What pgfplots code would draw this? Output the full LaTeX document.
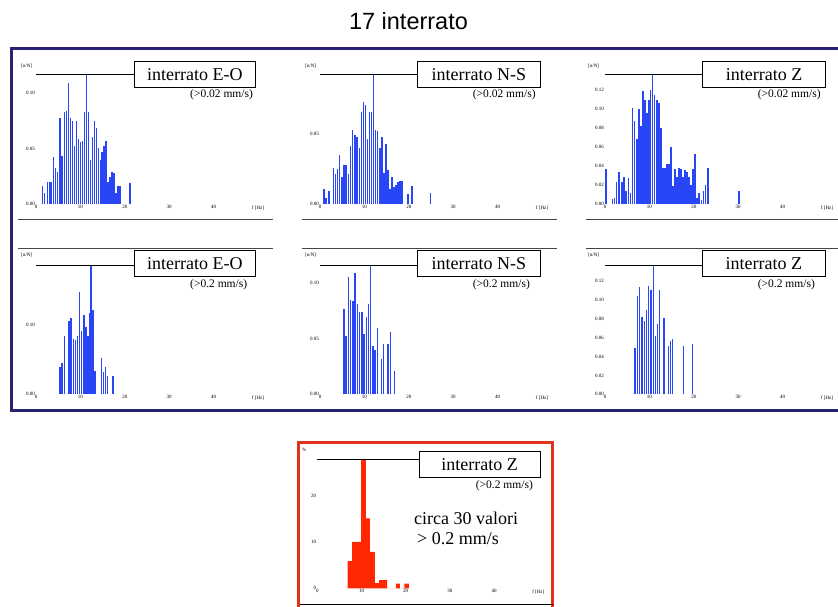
\documentclass[border=0pt]{standalone}
\usepackage{pgfplots}
\pgfplotsset{compat=1.18}
\usepackage{fontspec}
\setmainfont{Liberation Serif}
\newfontfamily\arial{Liberation Sans}
\definecolor{barblue}{RGB}{40,70,245}
\definecolor{navybox}{RGB}{40,35,115}
\definecolor{redbox}{RGB}{225,50,30}
\definecolor{redbar}{RGB}{255,40,0}
\definecolor{sepgray}{RGB}{70,70,70}

\pgfplotsset{panel/.style={
  scale only axis, width=222pt, xmin=0, xmax=50, ymin=0, ymax=1,
  enlargelimits=false, clip=false,
  axis x line*=bottom, axis y line*=left,
  axis line style={draw=none}, tick style={draw=none},
  xtick={0,10,20,30,40,50}, xticklabels={0,10,20,30,40,f [Hz]},
  tick label style={font=\fontsize{5}{5}\selectfont, inner sep=1pt},
  anchor=south west}}

\newcommand{\plabel}[6]{%
  \draw[line width=0.8pt] (#1,#2) -- (#3,#2);
  \draw[line width=0.8pt, fill=white] (#3,{#5-12.9}) rectangle (#4,{#5+12.9});
  \node[font=\fontsize{18}{18}\selectfont, inner sep=0] at ({(#3+#4)/2},#5) {#6};}

\begin{document}
\begin{tikzpicture}[x=1pt,y=1pt]
\useasboundingbox (0,0) rectangle (838,607);
\fill[white] (0,0) rectangle (838,607);
\node[font=\arial\fontsize{23.5}{23.5}\selectfont, anchor=base, inner sep=0] at (408.5,577) {17 interrato};
\draw[navybox, line width=3pt] (11.3,196.5) rectangle (860,558.3);
\draw[redbox, line width=3pt] (298.6,-10) rectangle (552,164.8);

% separators
\draw[sepgray, line width=0.8pt] (18,388) -- (273,388);
\draw[sepgray, line width=0.8pt] (302,388) -- (557,388);
\draw[sepgray, line width=0.8pt] (586,388) -- (838,388);
\draw[sepgray, line width=0.8pt] (18,359) -- (273,359);
\draw[sepgray, line width=0.8pt] (302,359) -- (557,359);
\draw[sepgray, line width=0.8pt] (586,359) -- (838,359);
\draw[black, line width=1pt] (300,2) -- (553,2);

% ---------- P1 E-O >0.02
\begin{axis}[panel, at={(36pt,402.7pt)}, height=130pt,
  ytick={0,0.427,0.854}, yticklabels={0.00,0.05,0.10}]
\addplot[ycomb, draw=barblue, line width=1.4pt] coordinates {
(1.42,0.14)(1.87,0.09)(2.55,0.17)(3.00,0.17)(3.37,0.17)(3.90,0.36)(4.34,0.28)(4.87,0.25)(5.39,0.66)(5.84,0.37)
(6.37,0.71)(6.82,0.72)(7.27,0.93)(7.72,0.66)(8.16,0.64)(8.61,0.45)(9.06,0.64)(9.51,0.50)(9.96,0.48)(10.41,0.49)
(10.86,0.71)(11.31,1.0)(11.76,0.71)(12.21,0.34)(12.66,0.52)(13.11,0.64)(13.56,0.59)(14.01,0.43)(14.46,0.34)(14.91,0.40)
(15.36,0.45)(15.81,0.49)(16.25,0.17)(16.70,0.21)(17.15,0.25)(17.60,0.24)(18.05,0.09)(18.50,0.14)(18.95,0.14)(21.20,0.16)};
\end{axis}
\plabel{36}{532.7}{134}{255.7}{532.5}{interrato E-O}
\node[anchor=west, inner sep=0, font=\fontsize{11.5}{11.5}\selectfont] at (190,512) {(>0.02 mm/s)};
\node[anchor=west, inner sep=0, font=\fontsize{5}{5}\selectfont] at (21,541.3) {[n/N]};

% ---------- P2 N-S >0.02
\begin{axis}[panel, at={(320pt,402.7pt)}, height=130pt,
  ytick={0,0.54}, yticklabels={0.00,0.05}]
\addplot[ycomb, draw=barblue, line width=1.4pt] coordinates {
(0.91,0.12)(1.36,0.05)(1.89,0.105)(2.19,0.105)(3.02,0.28)(3.47,0.23)(4.00,0.27)(4.45,0.38)(4.98,0.21)(5.43,0.30)
(5.89,0.30)(6.42,0.23)(6.87,0.45)(7.32,0.57)(7.85,0.53)(8.30,0.52)(8.83,0.43)(9.28,0.71)(9.74,0.79)(10.26,0.76)
(10.72,0.50)(11.17,0.71)(11.55,0.71)(12.00,1.0)(12.45,0.57)(12.91,0.56)(13.51,0.43)(13.96,0.52)(14.42,0.24)(14.87,0.46)
(15.32,0.26)(15.77,0.12)(16.23,0.21)(16.68,0.13)(17.13,0.15)(17.58,0.17)(18.04,0.18)(18.49,0.18)(19.85,0.08)(20.75,0.14)(24.83,0.09)};
\end{axis}
\plabel{320}{532.7}{417.7}{540}{532.5}{interrato N-S}
\node[anchor=west, inner sep=0, font=\fontsize{11.5}{11.5}\selectfont] at (472.7,512) {(>0.02 mm/s)};
\node[anchor=west, inner sep=0, font=\fontsize{5}{5}\selectfont] at (305,541.3) {[n/N]};

% ---------- P3 Z >0.02
\begin{axis}[panel, at={(605pt,402.7pt)}, height=130pt,
  ytick={0,0.146,0.292,0.438,0.585,0.731,0.877}, yticklabels={0.00,0.02,0.04,0.06,0.08,0.10,0.12}]
\addplot[ycomb, draw=barblue, line width=1.4pt] coordinates {
(0.23,0.27)(1.67,0.04)(2.12,0.05)(2.65,0.17)(3.18,0.25)(3.79,0.17)(4.24,0.21)(4.70,0.10)(5.23,0.20)(5.68,0.09)
(6.21,0.74)(6.67,0.64)(7.20,0.50)(7.65,0.73)(8.11,0.60)(8.56,0.87)(9.02,0.80)(9.47,0.70)(9.92,0.80)(10.30,0.88)
(10.76,1.0)(11.21,0.84)(11.67,0.80)(12.12,0.78)(12.58,0.59)(13.03,0.28)(13.48,0.28)(13.94,0.31)(14.39,0.31)(14.85,0.44)
(15.30,0.14)(15.76,0.27)(16.21,0.21)(16.67,0.28)(17.12,0.27)(17.58,0.21)(18.03,0.26)(18.48,0.25)(18.94,0.21)(19.39,0.15)
(19.85,0.27)(20.30,0.39)(20.76,0.05)(21.21,0.09)(21.67,0.03)(22.12,0.10)(22.58,0.15)(23.18,0.28)(30.15,0.10)};
\end{axis}
\plabel{605}{532.7}{702.7}{825.7}{532.5}{interrato Z}
\node[anchor=west, inner sep=0, font=\fontsize{11.5}{11.5}\selectfont] at (757.7,512) {(>0.02 mm/s)};
\node[anchor=west, inner sep=0, font=\fontsize{5}{5}\selectfont] at (588,541.3) {[n/N]};

% ---------- P4 E-O >0.2
\begin{axis}[panel, at={(36pt,212.7pt)}, height=129.3pt,
  ytick={0,0.536}, yticklabels={0.00,0.10}]
\addplot[ycomb, draw=barblue, line width=1.4pt] coordinates {
(5.39,0.21)(5.84,0.24)(6.37,0.45)(7.42,0.57)(7.87,0.59)(8.39,0.43)(8.84,0.42)(9.36,0.45)(9.81,0.79)(10.26,0.49)
(10.79,0.61)(11.24,0.52)(11.69,0.45)(11.99,0.63)(12.36,1.0)(12.81,0.65)(13.26,0.18)(14.76,0.28)(15.21,0.17)(15.66,0.21)
(16.10,0.14)(17.30,0.14)};
\end{axis}
\plabel{36}{342}{134}{255.7}{343.7}{interrato E-O}
\node[anchor=west, inner sep=0, font=\fontsize{11.5}{11.5}\selectfont] at (190,322.7) {(>0.2 mm/s)};
\node[anchor=west, inner sep=0, font=\fontsize{5}{5}\selectfont] at (21,352) {[n/N]};

% ---------- P5 N-S >0.2
\begin{axis}[panel, at={(320pt,212.7pt)}, height=129.3pt,
  ytick={0,0.428,0.858}, yticklabels={0.00,0.05,0.10}]
\addplot[ycomb, draw=barblue, line width=1.4pt] coordinates {
(5.43,0.66)(5.89,0.45)(6.42,0.91)(6.87,0.73)(7.40,0.72)(7.92,0.94)(8.38,0.70)(8.91,0.64)(9.43,0.64)(9.89,0.47)
(10.42,0.60)(10.87,0.70)(11.40,1.0)(11.92,0.37)(12.38,0.34)(12.91,0.51)(13.89,0.27)(14.34,0.39)(15.32,0.39)(15.85,0.48)
(16.83,0.18)};
\end{axis}
\plabel{320}{342}{417.7}{540}{343.7}{interrato N-S}
\node[anchor=west, inner sep=0, font=\fontsize{11.5}{11.5}\selectfont] at (472.7,322.7) {(>0.2 mm/s)};
\node[anchor=west, inner sep=0, font=\fontsize{5}{5}\selectfont] at (305,352) {[n/N]};

% ---------- P6 Z >0.2
\begin{axis}[panel, at={(605pt,212.7pt)}, height=129.3pt,
  ytick={0,0.146,0.292,0.438,0.585,0.731,0.877}, yticklabels={0.00,0.02,0.04,0.06,0.08,0.10,0.12}]
\addplot[ycomb, draw=barblue, line width=1.4pt] coordinates {
(6.79,0.36)(7.32,0.76)(7.77,0.83)(8.30,0.60)(8.83,0.57)(9.36,0.65)(9.81,0.84)(10.34,0.81)(10.87,1.0)(11.32,0.45)
(11.85,0.54)(12.30,0.81)(13.28,0.59)(14.34,0.37)(14.79,0.41)(15.25,0.43)(17.74,0.37)(19.77,0.39)};
\end{axis}
\plabel{605}{342}{702.7}{825}{343.7}{interrato Z}
\node[anchor=west, inner sep=0, font=\fontsize{11.5}{11.5}\selectfont] at (757.7,322.7) {(>0.2 mm/s)};
\node[anchor=west, inner sep=0, font=\fontsize{5}{5}\selectfont] at (588,352) {[n/N]};

% ---------- Red Z >0.2 histogram (percent)
\begin{axis}[panel, at={(317.3pt,18.7pt)}, height=129.3pt, width=221pt, ymax=28.1,
  ytick={0,10,20}, yticklabels={0,10,20}]
\addplot[ybar interval, fill=redbar, draw=none] coordinates {
(6.86,5.9)(7.9,10.1)(8.9,10.1)(9.9,28.1)(11.0,15.2)(11.9,7.9)(13.0,1.1)(14.0,1.8)(15.8,0)(17.8,1.0)(18.7,0)(19.7,1.0)(20.7,0)};
\end{axis}
\plabel{317.3}{148}{419}{540}{142.3}{interrato Z}
\node[anchor=west, inner sep=0, font=\fontsize{11.5}{11.5}\selectfont] at (475.7,121) {(>0.2 mm/s)};
\node[anchor=west, inner sep=0, font=\fontsize{18}{18}\selectfont] at (414,88.7) {circa 30 valori};
\node[anchor=west, inner sep=0, font=\fontsize{18}{18}\selectfont] at (414,68.7) {\,> 0.2 mm/s};
\node[anchor=west, inner sep=0, font=\fontsize{5}{5}\selectfont] at (302,157) {\%};
\end{tikzpicture}
\end{document}
